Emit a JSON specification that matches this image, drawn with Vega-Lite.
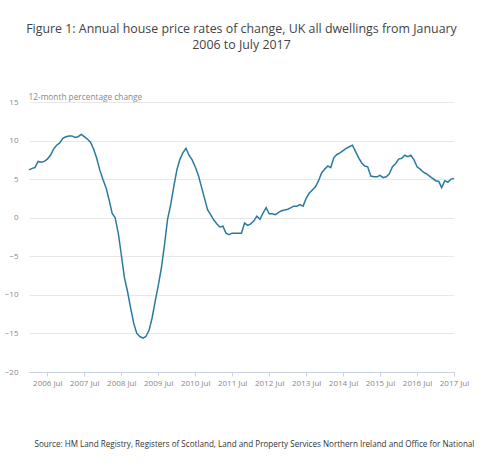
{
  "$schema": "https://vega.github.io/schema/vega-lite/v6.json",
  "width": 425,
  "height": 270,
  "autosize": {"type": "none"},
  "padding": {"left": 29, "top": 102, "right": 26, "bottom": 103},
  "config": {
    "view": {"stroke": null},
    "font": "Open Sans"
  },
  "title": {
    "text": ["Figure 1: Annual house price rates of change, UK all dwellings from January", "2006 to July 2017"],
    "fontSize": 12.4,
    "fontWeight": "normal",
    "font": "Open Sans",
    "color": "#444444",
    "anchor": "middle",
    "lineHeight": 16,
    "offset": 41
  },
  "data": {
    "values": [
      {"date": "2006-01-01", "value": 6.2}, {"date": "2006-02-01", "value": 6.4}, {"date": "2006-03-01", "value": 6.5}, {"date": "2006-04-01", "value": 7.3}, {"date": "2006-05-01", "value": 7.2}, {"date": "2006-06-01", "value": 7.3}, {"date": "2006-07-01", "value": 7.6}, {"date": "2006-08-01", "value": 8.1}, {"date": "2006-09-01", "value": 8.9}, {"date": "2006-10-01", "value": 9.4}, {"date": "2006-11-01", "value": 9.7}, {"date": "2006-12-01", "value": 10.3},
      {"date": "2007-01-01", "value": 10.5}, {"date": "2007-02-01", "value": 10.6}, {"date": "2007-03-01", "value": 10.6}, {"date": "2007-04-01", "value": 10.4}, {"date": "2007-05-01", "value": 10.5}, {"date": "2007-06-01", "value": 10.8}, {"date": "2007-07-01", "value": 10.5}, {"date": "2007-08-01", "value": 10.2}, {"date": "2007-09-01", "value": 9.8}, {"date": "2007-10-01", "value": 8.9}, {"date": "2007-11-01", "value": 7.7}, {"date": "2007-12-01", "value": 6.2},
      {"date": "2008-01-01", "value": 5.0}, {"date": "2008-02-01", "value": 3.9}, {"date": "2008-03-01", "value": 2.4}, {"date": "2008-04-01", "value": 0.6}, {"date": "2008-05-01", "value": 0.0}, {"date": "2008-06-01", "value": -2.0}, {"date": "2008-07-01", "value": -4.8}, {"date": "2008-08-01", "value": -7.8}, {"date": "2008-09-01", "value": -9.6}, {"date": "2008-10-01", "value": -11.7}, {"date": "2008-11-01", "value": -13.7}, {"date": "2008-12-01", "value": -15.0},
      {"date": "2009-01-01", "value": -15.4}, {"date": "2009-02-01", "value": -15.6}, {"date": "2009-03-01", "value": -15.4}, {"date": "2009-04-01", "value": -14.6}, {"date": "2009-05-01", "value": -13.0}, {"date": "2009-06-01", "value": -10.8}, {"date": "2009-07-01", "value": -8.8}, {"date": "2009-08-01", "value": -6.5}, {"date": "2009-09-01", "value": -3.5}, {"date": "2009-10-01", "value": -0.2}, {"date": "2009-11-01", "value": 1.7}, {"date": "2009-12-01", "value": 4.0},
      {"date": "2010-01-01", "value": 6.2}, {"date": "2010-02-01", "value": 7.6}, {"date": "2010-03-01", "value": 8.4}, {"date": "2010-04-01", "value": 9.0}, {"date": "2010-05-01", "value": 8.1}, {"date": "2010-06-01", "value": 7.5}, {"date": "2010-07-01", "value": 6.6}, {"date": "2010-08-01", "value": 5.5}, {"date": "2010-09-01", "value": 4.0}, {"date": "2010-10-01", "value": 2.5}, {"date": "2010-11-01", "value": 1.0}, {"date": "2010-12-01", "value": 0.4},
      {"date": "2011-01-01", "value": -0.3}, {"date": "2011-02-01", "value": -0.8}, {"date": "2011-03-01", "value": -1.2}, {"date": "2011-04-01", "value": -1.1}, {"date": "2011-05-01", "value": -2.0}, {"date": "2011-06-01", "value": -2.2}, {"date": "2011-07-01", "value": -2.0}, {"date": "2011-08-01", "value": -2.0}, {"date": "2011-09-01", "value": -2.0}, {"date": "2011-10-01", "value": -2.0}, {"date": "2011-11-01", "value": -0.7}, {"date": "2011-12-01", "value": -1.0},
      {"date": "2012-01-01", "value": -0.8}, {"date": "2012-02-01", "value": -0.4}, {"date": "2012-03-01", "value": 0.2}, {"date": "2012-04-01", "value": -0.2}, {"date": "2012-05-01", "value": 0.6}, {"date": "2012-06-01", "value": 1.3}, {"date": "2012-07-01", "value": 0.5}, {"date": "2012-08-01", "value": 0.5}, {"date": "2012-09-01", "value": 0.4}, {"date": "2012-10-01", "value": 0.7}, {"date": "2012-11-01", "value": 0.9}, {"date": "2012-12-01", "value": 1.0},
      {"date": "2013-01-01", "value": 1.1}, {"date": "2013-02-01", "value": 1.3}, {"date": "2013-03-01", "value": 1.5}, {"date": "2013-04-01", "value": 1.5}, {"date": "2013-05-01", "value": 1.7}, {"date": "2013-06-01", "value": 1.5}, {"date": "2013-07-01", "value": 2.5}, {"date": "2013-08-01", "value": 3.2}, {"date": "2013-09-01", "value": 3.6}, {"date": "2013-10-01", "value": 4.0}, {"date": "2013-11-01", "value": 4.8}, {"date": "2013-12-01", "value": 5.8},
      {"date": "2014-01-01", "value": 6.3}, {"date": "2014-02-01", "value": 6.7}, {"date": "2014-03-01", "value": 6.5}, {"date": "2014-04-01", "value": 7.8}, {"date": "2014-05-01", "value": 8.2}, {"date": "2014-06-01", "value": 8.4}, {"date": "2014-07-01", "value": 8.7}, {"date": "2014-08-01", "value": 9.0}, {"date": "2014-09-01", "value": 9.2}, {"date": "2014-10-01", "value": 9.4}, {"date": "2014-11-01", "value": 8.6}, {"date": "2014-12-01", "value": 7.8},
      {"date": "2015-01-01", "value": 7.1}, {"date": "2015-02-01", "value": 6.7}, {"date": "2015-03-01", "value": 6.6}, {"date": "2015-04-01", "value": 5.4}, {"date": "2015-05-01", "value": 5.3}, {"date": "2015-06-01", "value": 5.3}, {"date": "2015-07-01", "value": 5.5}, {"date": "2015-08-01", "value": 5.2}, {"date": "2015-09-01", "value": 5.3}, {"date": "2015-10-01", "value": 5.7}, {"date": "2015-11-01", "value": 6.6}, {"date": "2015-12-01", "value": 7.0},
      {"date": "2016-01-01", "value": 7.6}, {"date": "2016-02-01", "value": 7.7}, {"date": "2016-03-01", "value": 8.1}, {"date": "2016-04-01", "value": 7.9}, {"date": "2016-05-01", "value": 8.1}, {"date": "2016-06-01", "value": 7.5}, {"date": "2016-07-01", "value": 6.6}, {"date": "2016-08-01", "value": 6.3}, {"date": "2016-09-01", "value": 5.9}, {"date": "2016-10-01", "value": 5.7}, {"date": "2016-11-01", "value": 5.4}, {"date": "2016-12-01", "value": 5.1},
      {"date": "2017-01-01", "value": 4.8}, {"date": "2017-02-01", "value": 4.7}, {"date": "2017-03-01", "value": 3.9}, {"date": "2017-04-01", "value": 4.8}, {"date": "2017-05-01", "value": 4.6}, {"date": "2017-06-01", "value": 5.0}, {"date": "2017-07-01", "value": 5.1}
    ]
  },
  "mark": {"type": "line", "color": "#2a7aa0", "strokeWidth": 1.5},
  "encoding": {
    "x": {
      "field": "date",
      "type": "temporal",
      "scale": {
        "type": "utc",
        "domain": [{"year": 2006, "month": 1, "date": 1, "utc": true}, {"year": 2017, "month": 7, "date": 1, "utc": true}]
      },
      "axis": {
        "values": [
          {"year": 2006, "month": 7, "date": 1, "utc": true}, {"year": 2007, "month": 7, "date": 1, "utc": true}, {"year": 2008, "month": 7, "date": 1, "utc": true}, {"year": 2009, "month": 7, "date": 1, "utc": true}, {"year": 2010, "month": 7, "date": 1, "utc": true}, {"year": 2011, "month": 7, "date": 1, "utc": true}, {"year": 2012, "month": 7, "date": 1, "utc": true}, {"year": 2013, "month": 7, "date": 1, "utc": true}, {"year": 2014, "month": 7, "date": 1, "utc": true}, {"year": 2015, "month": 7, "date": 1, "utc": true}, {"year": 2016, "month": 7, "date": 1, "utc": true}, {"year": 2017, "month": 7, "date": 1, "utc": true}
        ],
        "format": "%Y %b",
        "labelOverlap": false,
        "labelBound": false,
        "labelFlush": false,
        "grid": false,
        "domainColor": "#c9d3df",
        "tickColor": "#c9d3df",
        "tickSize": 4,
        "labelFontSize": 8,
        "labelColor": "#888888",
        "labelPadding": 3,
        "labelFont": "Open Sans",
        "title": "Source: HM Land Registry, Registers of Scotland, Land and Property Services Northern Ireland and Office for National",
        "titleFont": "Open Sans",
        "titleFontSize": 8.1,
        "titleFontWeight": "normal",
        "titleColor": "#333333",
        "titleAlign": "left",
        "titleAnchor": "start",
        "titleBaseline": "middle",
        "titleX": 5,
        "titleY": 72
      }
    },
    "y": {
      "field": "value",
      "type": "quantitative",
      "scale": {"domain": [-20, 15], "nice": false, "zero": false},
      "axis": {
        "values": [-20, -15, -10, -5, 0, 5, 10, 15],
        "domain": false,
        "ticks": false,
        "gridColor": "#e8e8e8",
        "labelFontSize": 8,
        "labelColor": "#888888",
        "labelPadding": 11,
        "labelFont": "Open Sans",
        "title": "12-month percentage change",
        "titleFont": "Open Sans",
        "titleFontSize": 8.3,
        "titleFontWeight": "normal",
        "titleColor": "#888888",
        "titleAngle": 0,
        "titleAlign": "left",
        "titleBaseline": "middle",
        "titleX": -1,
        "titleY": -5
      }
    }
  }
}
